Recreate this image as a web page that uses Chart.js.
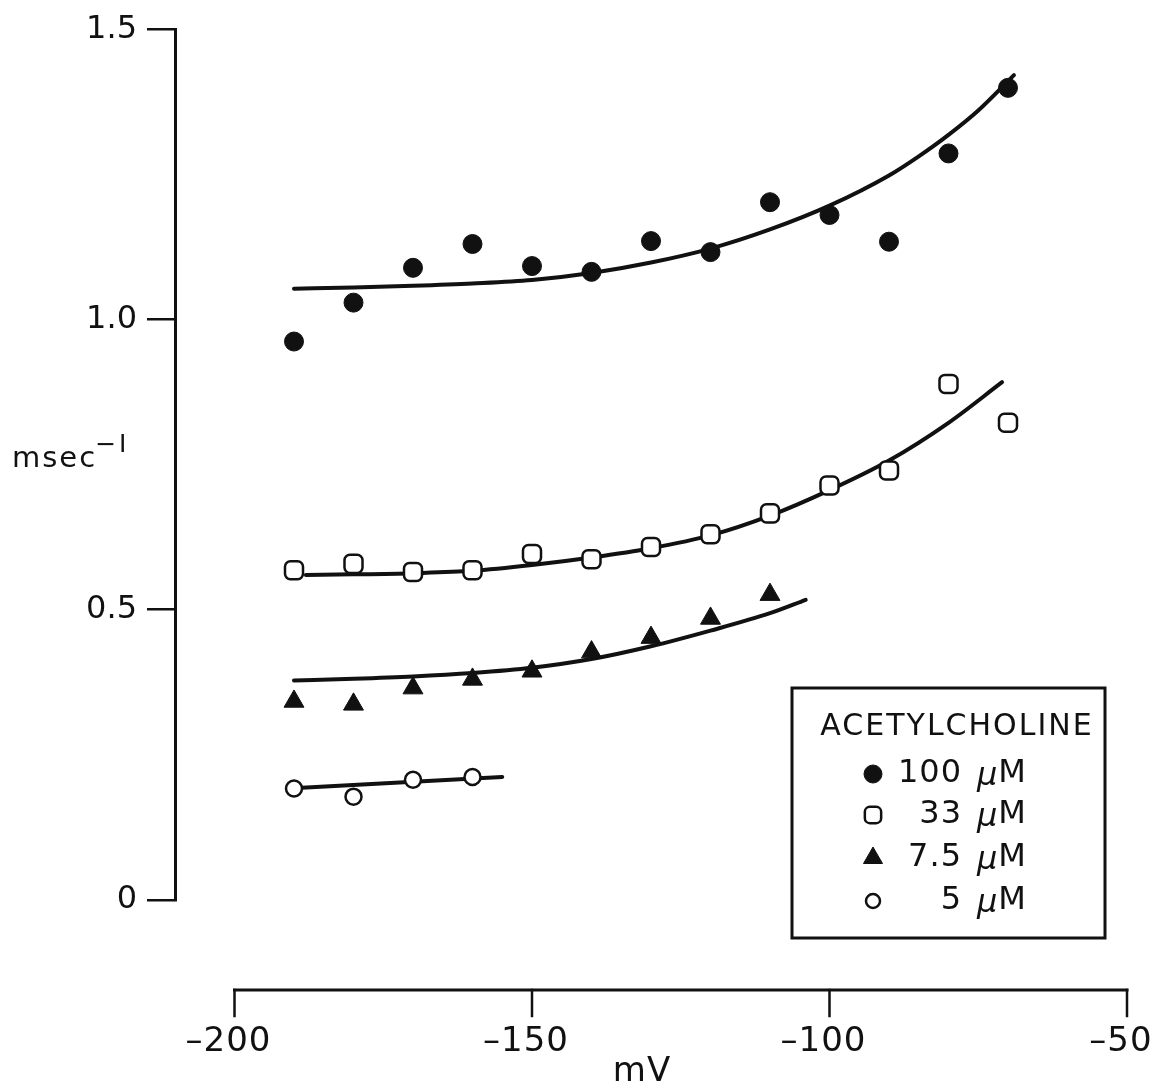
<!DOCTYPE html>
<html>
<head>
<meta charset="utf-8">
<script src="https://cdn.jsdelivr.net/npm/chart.js@4.4.1/dist/chart.umd.min.js"></script>
<style>
	body { margin: 0; background: #fff; }
	#wrap { width: 1167px; height: 1090px; }
</style>
</head>
<body>
<div id="wrap"><canvas id="rateChart" width="1167" height="1090"></canvas></div>
<script>
// membrane potential (mV) for the measured points
const mV = [-190, -180, -170, -160, -150, -140, -130, -120, -110, -100, -90, -80, -70];

// measured rates, msec^-1
const ach100 = [0.962, 1.029, 1.089, 1.130, 1.092, 1.082, 1.135, 1.116, 1.202, 1.180, 1.134, 1.286, 1.399];
const ach33 = [0.568, 0.579, 0.565, 0.568, 0.596, 0.587, 0.608, 0.630, 0.666, 0.714, 0.740, 0.889, 0.822];
const ach75 = [0.342, 0.337, 0.365, 0.380, 0.394, 0.427, 0.452, 0.485, 0.526];
const ach5 = [0.192, 0.178, 0.207, 0.212];

// fitted curves
const fit100X = [-190, -180, -170, -160, -150, -140, -130, -120, -110, -100, -90, -85, -80, -75, -69];
const fit100Y = [1.053, 1.055, 1.058, 1.062, 1.068, 1.080, 1.098, 1.122, 1.155, 1.196, 1.248, 1.281, 1.318, 1.360, 1.421];
const fit33X = [-188, -180, -170, -160, -150, -140, -130, -120, -110, -100, -90, -80, -71];
const fit33Y = [0.560, 0.561, 0.563, 0.567, 0.577, 0.590, 0.606, 0.628, 0.662, 0.706, 0.757, 0.822, 0.892];
const fit75X = [-190, -180, -170, -160, -150, -140, -130, -120, -110, -104];
const fit75Y = [0.378, 0.381, 0.385, 0.391, 0.400, 0.415, 0.437, 0.464, 0.494, 0.517];
const fit5X = [-191, -155];
const fit5Y = [0.192, 0.212];

const xTicks = [-200, -150, -100, -50];
const yTicks = [0, 0.5, 1.0, 1.5];
const legendTitle = "ACETYLCHOLINE";
const legendDoses = ["100", "33", "7.5", "5"];

const INK = "#111";
const FONT = "'DejaVu Sans', sans-serif";

function pts(xs, ys) {
	return ys.map((y, i) => ({ x: xs[i], y: y }));
}

const markerStyles = [
	{ pointStyle: "circle", radius: 9.5, fill: INK, borderWidth: 1, keyRadius: 9 },
	{ pointStyle: "rectRounded", radius: 10.5, fill: "#fff", borderWidth: 2.5, keyRadius: 9.5 },
	{ pointStyle: "triangle", radius: 11.5, fill: INK, borderWidth: 1, keyRadius: 11 },
	{ pointStyle: "circle", radius: 8, fill: "#fff", borderWidth: 2.5, keyRadius: 7 },
];

function markerSet(label, data, m) {
	return {
		label: label,
		data: data,
		showLine: false,
		pointStyle: m.pointStyle,
		pointRadius: m.radius,
		pointHoverRadius: m.radius,
		pointBackgroundColor: m.fill,
		pointBorderColor: INK,
		pointBorderWidth: m.borderWidth,
		order: 0,
	};
}

function fitSet(data) {
	return {
		data: data,
		showLine: true,
		borderColor: INK,
		borderWidth: 4,
		borderCapStyle: "round",
		cubicInterpolationMode: "monotone",
		pointRadius: 0,
		order: 1,
	};
}

// separate x axis below the plot, and the horizontal y title
const axesPlugin = {
	id: "paperAxes",
	afterDraw(chart) {
		const ctx = chart.ctx;
		const xs = chart.scales.x;
		const axisY = 990;
		ctx.save();
		ctx.strokeStyle = INK;
		ctx.fillStyle = INK;
		ctx.lineWidth = 3;
		ctx.lineCap = "square";
		ctx.beginPath();
		ctx.moveTo(xs.getPixelForValue(xTicks[0]), axisY);
		ctx.lineTo(xs.getPixelForValue(xTicks[xTicks.length - 1]), axisY);
		ctx.stroke();
		ctx.lineWidth = 2.5;
		ctx.font = "34px " + FONT;
		ctx.letterSpacing = "1px";
		ctx.textAlign = "center";
		ctx.textBaseline = "middle";
		xTicks.forEach((t) => {
			const px = xs.getPixelForValue(t);
			ctx.beginPath();
			ctx.moveTo(px, axisY);
			ctx.lineTo(px, axisY + 26);
			ctx.stroke();
			ctx.fillText(String(t).replace("-", "\u2013"), px - 6, 1042);
		});
		ctx.fillText("mV", 642, 1072);

		// msec^-1
		ctx.textAlign = "left";
		ctx.textBaseline = "alphabetic";
		ctx.font = "29px " + FONT;
		ctx.letterSpacing = "2px";
		ctx.fillText("msec", 12, 467);
		const w = ctx.measureText("msec").width;
		ctx.font = "25px " + FONT;
		ctx.letterSpacing = "3px";
		ctx.fillText("\u2212I", 10 + w, 452);
		ctx.restore();
	},
};

// boxed legend in the lower right
const legendPlugin = {
	id: "boxLegend",
	afterDraw(chart) {
		const ctx = chart.ctx;
		ctx.save();
		ctx.strokeStyle = INK;
		ctx.fillStyle = INK;
		ctx.lineWidth = 3;
		ctx.strokeRect(792, 688, 313, 250);
		ctx.font = "30px " + FONT;
		ctx.letterSpacing = "2px";
		ctx.textAlign = "center";
		ctx.textBaseline = "middle";
		ctx.fillText(legendTitle, 957, 727);
		const rowY = [774, 815, 858, 901];
		legendDoses.forEach((d, i) => {
			const m = markerStyles[i];
			ctx.fillStyle = m.fill;
			ctx.strokeStyle = INK;
			ctx.lineWidth = m.borderWidth;
			Chart.helpers.drawPoint(ctx, {
				pointStyle: m.pointStyle,
				radius: m.keyRadius,
				borderWidth: m.borderWidth,
			}, 873, rowY[i]);
			ctx.fillStyle = INK;
			ctx.font = "32px " + FONT;
			ctx.letterSpacing = "1px";
			ctx.textAlign = "right";
			ctx.fillText(d, 962, rowY[i]);
			ctx.textAlign = "left";
			ctx.letterSpacing = "0px";
			ctx.font = "italic 32px " + FONT;
			ctx.fillText("\u03bc", 977, rowY[i] + 3);
			const mu = ctx.measureText("\u03bc").width;
			ctx.font = "32px " + FONT;
			ctx.fillText("M", 977 + mu + 1, rowY[i]);
		});
		ctx.restore();
	},
};

const ctx = document.getElementById("rateChart");
new Chart(ctx, {
	type: "scatter",
	data: {
		datasets: [
			markerSet("100 µM", pts(mV, ach100), markerStyles[0]),
			markerSet("33 µM", pts(mV, ach33), markerStyles[1]),
			markerSet("7.5 µM", pts(mV, ach75), markerStyles[2]),
			markerSet("5 µM", pts(mV, ach5), markerStyles[3]),
			fitSet(pts(fit100X, fit100Y)),
			fitSet(pts(fit33X, fit33Y)),
			fitSet(pts(fit75X, fit75Y)),
			fitSet(pts(fit5X, fit5Y)),
		],
	},
	options: {
		responsive: false,
		animation: false,
		layout: { padding: { top: 24, right: 40, bottom: 190, left: 0 } },
		plugins: {
			legend: { display: false },
			tooltip: { enabled: false },
		},
		scales: {
			x: {
				type: "linear",
				display: false,
				min: -210,
				max: -50,
			},
			y: {
				min: 0,
				max: 1.5,
				afterFit: (scale) => { scale.width = 175; },
				afterBuildTicks: (scale) => { scale.ticks = yTicks.map((v) => ({ value: v })); },
				border: { display: true, color: INK, width: 3 },
				grid: { drawOnChartArea: false, tickLength: 28, color: INK, lineWidth: 2.5 },
				ticks: {
					color: INK,
					padding: 10,
					font: { family: FONT, size: 32 },
					callback: (v) => (v === 0 ? "0" : v.toFixed(1)),
				},
			},
		},
	},
	plugins: [axesPlugin, legendPlugin],
});
</script>
</body>
</html>
